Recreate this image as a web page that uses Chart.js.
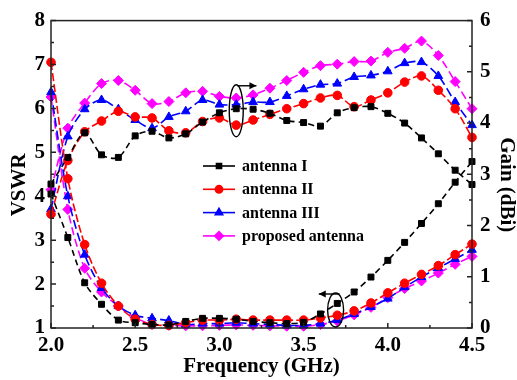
<!DOCTYPE html>
<html><head><meta charset="utf-8">
<script src="https://cdn.jsdelivr.net/npm/chart.js@4/dist/chart.umd.min.js"></script>
<style>html,body{margin:0;padding:0;background:#fff;}#wrap{width:517px;height:380px;}</style>
</head><body><div id="wrap"><canvas id="c" width="517" height="380"></canvas></div>
<script>
const freq = [2.0,2.1,2.2,2.3,2.4,2.5,2.6,2.7,2.8,2.9,3.0,3.1,3.2,3.3,3.4,3.5,3.6,3.7,3.8,3.9,4.0,4.1,4.2,4.3,4.4,4.5];
const seriesNames = ['antenna I','antenna II','antenna III','proposed antenna'];
// VSWR (left axis)
const vswrAntI   = [4.05,3.06,2.03,1.54,1.18,1.12,1.08,1.07,1.15,1.22,1.22,1.20,1.15,1.12,1.10,1.13,1.32,1.56,1.82,2.16,2.54,2.95,3.38,3.83,4.32,4.79];
const vswrAntII  = [7.05,4.40,2.90,2.02,1.50,1.20,1.08,1.06,1.12,1.18,1.18,1.20,1.18,1.18,1.18,1.18,1.23,1.29,1.39,1.57,1.80,2.02,2.22,2.42,2.67,2.91];
const vswrAntIII = [6.37,4.00,2.67,1.91,1.50,1.29,1.22,1.17,1.08,1.10,1.10,1.12,1.10,1.08,1.06,1.06,1.10,1.18,1.32,1.48,1.67,1.93,2.16,2.37,2.57,2.78];
const vswrProp   = [6.26,3.70,2.36,1.82,1.50,1.24,1.08,1.06,1.05,1.05,1.06,1.07,1.06,1.05,1.04,1.04,1.08,1.16,1.30,1.47,1.69,1.90,2.07,2.25,2.45,2.63];
// Gain in dBi (right axis)
const gainAntI   = [2.81,3.33,3.81,3.38,3.33,3.75,3.84,3.71,3.79,4.02,4.20,4.28,4.27,4.19,4.05,4.01,3.94,4.20,4.30,4.32,4.19,4.00,3.71,3.40,3.08,2.80];
const gainAntII  = [2.22,3.27,3.83,4.04,4.23,4.12,4.10,3.85,3.81,4.03,4.10,3.96,4.06,4.17,4.28,4.38,4.49,4.54,4.32,4.45,4.59,4.80,4.92,4.64,4.28,3.72];
const gainAntIII = [2.32,3.74,4.27,4.45,4.27,4.06,3.90,4.12,4.23,4.45,4.36,4.36,4.41,4.41,4.53,4.66,4.75,4.77,4.90,4.93,5.01,5.17,5.19,4.92,4.41,3.96];
const gainProp   = [2.70,3.90,4.39,4.77,4.83,4.64,4.38,4.42,4.59,4.62,4.52,4.49,4.55,4.68,4.83,4.99,5.12,5.15,5.20,5.21,5.38,5.46,5.60,5.32,4.81,4.28];
const xTickStep = 0.5, vswrMin = 1, vswrMax = 8, gainMin = 0, gainMax = 6;

const colors = ['#000000','#ff0000','#0000ff','#ff00ff'];
const styles = ['rect','circle','triangle','rectRot'];
const radii = [4.2,4.3,5,5];
const dashes = [[6,4],[8,3],[9,4],[8,4]];
const vswrSets = [vswrAntI,vswrAntII,vswrAntIII,vswrProp];
const gainSets = [gainAntI,gainAntII,gainAntIII,gainProp];
const FONT = "'Liberation Serif','Times New Roman',serif";

function ds(name, arr, i, axis){
  return {label:name, data:freq.map((f,k)=>({x:f,y:arr[k]})), yAxisID:axis,
    borderColor:colors[i], backgroundColor:colors[i], borderWidth:1.6, borderDash:dashes[i],
    pointStyle:styles[i], pointRadius:radii[i], pointBorderWidth:1, pointBackgroundColor:colors[i], pointBorderColor:colors[i],
    tension:0.3, fill:false, clip:false};
}
const datasets = [];
for (let i=0;i<4;i++){ datasets.push(ds(seriesNames[i]+' VSWR', vswrSets[i], i, 'y')); }
for (let i=0;i<4;i++){ datasets.push(ds(seriesNames[i]+' gain', gainSets[i], i, 'y1')); }

function arrow(ctx,x1,y1,x2,y2){
  ctx.beginPath(); ctx.moveTo(x1,y1); ctx.lineTo(x2,y2); ctx.stroke();
  const ang=Math.atan2(y2-y1,x2-x1), L=7, W=3.5;
  ctx.beginPath(); ctx.moveTo(x2,y2);
  ctx.lineTo(x2-L*Math.cos(ang)+W*Math.sin(ang), y2-L*Math.sin(ang)-W*Math.cos(ang));
  ctx.lineTo(x2-L*Math.cos(ang)-W*Math.sin(ang), y2-L*Math.sin(ang)+W*Math.cos(ang));
  ctx.closePath(); ctx.fill();
}

const decor = {
  id:'decor',
  afterDatasetsDraw(chart){
    const {ctx, chartArea:a, scales} = chart;
    const xs=scales.x, yl=scales.y, yr=scales.y1;
    ctx.save();
    ctx.strokeStyle='#222'; ctx.lineWidth=1.5; ctx.setLineDash([]);
    ctx.strokeRect(a.left,a.top,a.right-a.left,a.bottom-a.top);
    ctx.beginPath();
    for (let k=0;k<=10;k++){ const v=xs.min+k*0.25; const px=xs.getPixelForValue(v); const L=(k%2===0)?5:3; ctx.moveTo(px,a.bottom); ctx.lineTo(px,a.bottom-L); }
    for (let k=0;k<=14;k++){ const v=yl.min+k*0.5; const py=yl.getPixelForValue(v); const L=(k%2===0)?5:3; ctx.moveTo(a.left,py); ctx.lineTo(a.left+L,py); }
    for (let k=0;k<=12;k++){ const v=yr.min+k*0.5; const py=yr.getPixelForValue(v); const L=(k%2===0)?5:3; ctx.moveTo(a.right,py); ctx.lineTo(a.right-L,py); }
    ctx.stroke();
    // ellipse + arrow for gain group
    ctx.strokeStyle='#000'; ctx.fillStyle='#000'; ctx.lineWidth=1.4;
    let cx=xs.getPixelForValue(3.1), cy=yr.getPixelForValue(4.24);
    ctx.beginPath(); ctx.ellipse(cx,cy,7,26,0,0,Math.PI*2); ctx.stroke();
    arrow(ctx, cx+1, cy-25, xs.getPixelForValue(3.22), cy-25);
    // ellipse + arrow for VSWR group
    cx=xs.getPixelForValue(3.69); cy=yl.getPixelForValue(1.41);
    ctx.beginPath(); ctx.ellipse(cx,cy,8,17,0,0,Math.PI*2); ctx.stroke();
    arrow(ctx, cx+4, cy-16, xs.getPixelForValue(3.59), cy-16);
    // legend
    const lx=203, ly=166, dy=23.3;
    ctx.font = "bold 16px "+FONT; ctx.textBaseline='middle'; ctx.textAlign='left';
    for (let i=0;i<4;i++){
      const y=ly+i*dy;
      ctx.strokeStyle=colors[i]; ctx.fillStyle=colors[i]; ctx.lineWidth=1.6; ctx.setLineDash([]);
      ctx.beginPath(); ctx.moveTo(lx,y); ctx.lineTo(lx+32,y); ctx.stroke();
      Chart.helpers.drawPoint(ctx,{pointStyle:styles[i],radius:radii[i]*0.85,borderWidth:1,rotation:0},lx+16,y);
      ctx.fill();
      ctx.fillStyle='#000';
      ctx.fillText(seriesNames[i], lx+39, y+1);
    }
    ctx.restore();
  }
};

new Chart(document.getElementById('c'), {
  type:'line',
  data:{datasets},
  options:{
    responsive:false, animation:false, devicePixelRatio:1,
    layout:{padding:{top:18,left:0,right:0,bottom:0}},
    plugins:{legend:{display:false}, tooltip:{enabled:false}},
    scales:{
      x:{type:'linear', min:2, max:4.5,
        ticks:{stepSize:xTickStep, padding:5, color:'#000', font:{family:FONT, size:21, weight:'bold'}, callback:v=>Number(v).toFixed(1)},
        grid:{display:false, drawTicks:false}, border:{display:false},
        title:{display:true, text:'Frequency (GHz)', color:'#000', font:{family:FONT,size:21,weight:'bold',lineHeight:1}, padding:{top:0,bottom:2.5}},
        afterFit(s){ s.height=52; }},
      y:{type:'linear', position:'left', min:vswrMin, max:vswrMax,
        ticks:{stepSize:1, padding:6, color:'#000', font:{family:FONT, size:21, weight:'bold'}},
        grid:{display:false, drawTicks:false}, border:{display:false},
        title:{display:true, text:'VSWR    ', color:'#000', font:{family:FONT,size:21,weight:'bold',lineHeight:1}, padding:{top:9.5,bottom:0}},
        afterFit(s){ s.width=51; }},
      y1:{type:'linear', position:'right', min:gainMin, max:gainMax,
        ticks:{stepSize:1, padding:8, color:'#000', font:{family:FONT, size:21, weight:'bold'}},
        grid:{display:false, drawTicks:false}, border:{display:false},
        title:{display:true, text:'    Gain (dBi)', color:'#000', font:{family:FONT,size:21,weight:'bold',lineHeight:1}, padding:{top:0,bottom:0}},
        afterFit(s){ s.width=45; }}
    }
  },
  plugins:[decor]
});
</script></body></html>
